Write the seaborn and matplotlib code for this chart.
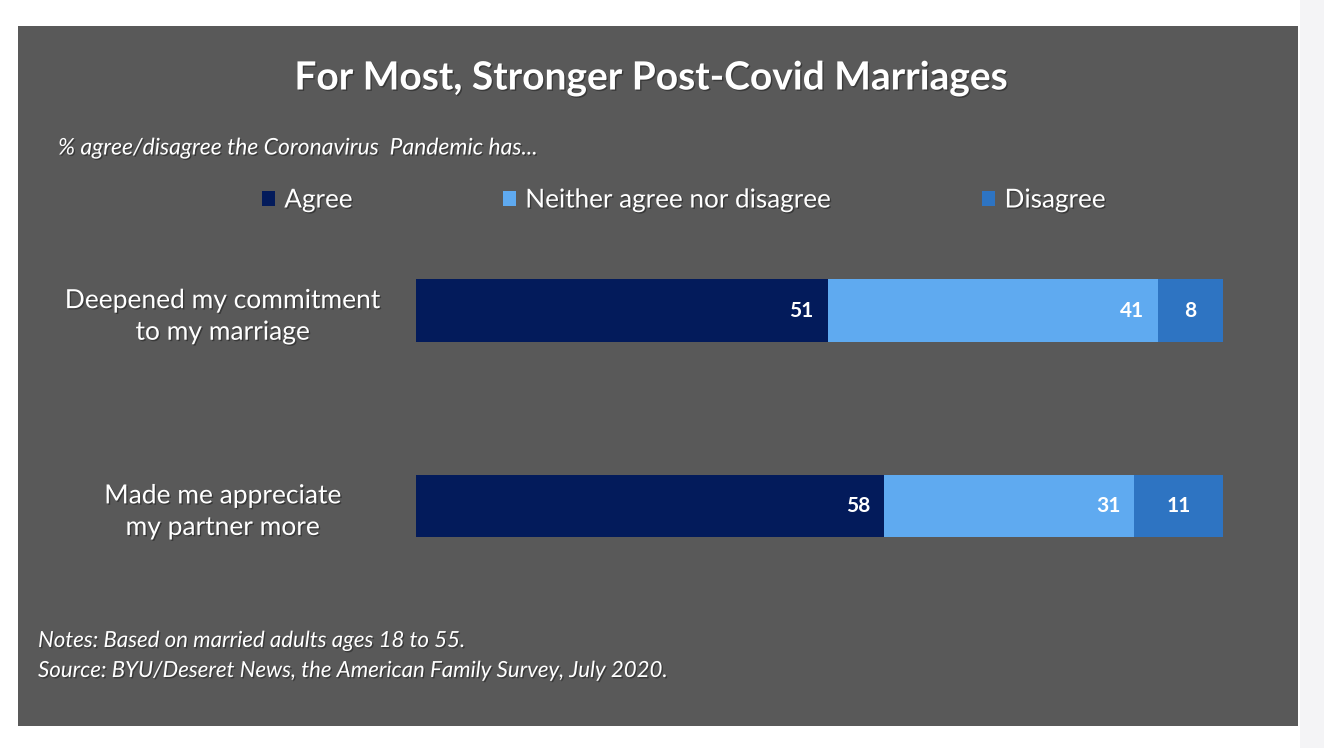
import numpy as np
import pandas as pd
import matplotlib
matplotlib.use("Agg")
import matplotlib.pyplot as plt
import matplotlib.patheffects as pe
import seaborn as sns
from matplotlib.patches import Rectangle

# ---- data ----
categories = ["Deepened my commitment\nto my marriage", "Made me appreciate\nmy partner more"]
series_names = ["Agree", "Neither agree nor disagree", "Disagree"]
agree = [51, 58]
neither = [41, 31]
disagree = [8, 11]
colors = ["#031b5b", "#5faaf0", "#2e74c2"]

title = "For Most, Stronger Post-Covid Marriages"
subtitle = "% agree/disagree the Coronavirus  Pandemic has..."
notes = ["Notes: Based on married adults ages 18 to 55.",
         "Source: BYU/Deseret News, the American Family Survey, July 2020."]

sns.set_theme(style="white")
plt.rcParams['font.family'] = ['Lato', 'DejaVu Sans']

shadow = [pe.withSimplePatchShadow(offset=(1, -1), shadow_rgbFace="black", alpha=0.35)]

W, H = 1324, 748
fig = plt.figure(figsize=(W / 100, H / 100), dpi=100)
fig.patch.set_facecolor("white")
fig.add_artist(Rectangle((18 / W, 1 - 726 / H), 1280 / W, 700 / H,
                         transform=fig.transFigure, facecolor="#595959",
                         edgecolor="none", zorder=-2))
fig.add_artist(Rectangle((1300 / W, 0), 24 / W, 1, transform=fig.transFigure,
                         facecolor="#f4f4f6", edgecolor="none", zorder=-2))

ax = fig.add_axes([416 / W, 1 - 603.5 / H, 807 / W, 390.5 / H])
ax.patch.set_alpha(0)

# cumulative ends for stacked bars
agree_end = np.array(agree)
neither_end = agree_end + np.array(neither)
dis_end = neither_end + np.array(disagree)

rows = []
for i, c in enumerate(categories):
    rows.append((c, "Disagree", dis_end[i]))
    rows.append((c, "Neither agree nor disagree", neither_end[i]))
    rows.append((c, "Agree", agree_end[i]))
df = pd.DataFrame(rows, columns=["cat", "series", "end"])

sns.barplot(data=df, y="cat", x="end", hue="series",
            hue_order=series_names[::-1],
            palette=dict(zip(series_names, colors)),
            dodge=False, width=0.32, orient="h", saturation=1,
            linewidth=0, edgecolor="none", ax=ax)

handles, labels = ax.get_legend_handles_labels()
if ax.get_legend() is not None:
    ax.get_legend().remove()
order = [labels.index(s) for s in series_names]
handles = [handles[k] for k in order]
labels = [labels[k] for k in order]
for h in handles:
    h.set_edgecolor("none")
    h.set_linewidth(0)

ax.set_xlim(0, 100)
ax.set_ylim(1.5, -0.5)
ax.set_xlabel("")
ax.set_ylabel("")
ax.set_xticks([])
for s in ax.spines.values():
    s.set_visible(False)
ax.tick_params(axis="y", length=0, pad=139)
for t in ax.get_yticklabels():
    t.set_ha("center")
    t.set_multialignment("center")
    t.set_color("white")
    t.set_fontsize(19)
    t.set_linespacing(1.33)
    t.set_path_effects(shadow)

# value labels
for i in range(len(categories)):
    ax.annotate(str(agree[i]), xy=(agree_end[i], i), xytext=(-10, 0),
                textcoords="offset points", ha="right", va="center",
                color="white", fontsize=15, weight="bold")
    ax.annotate(str(neither[i]), xy=(neither_end[i], i), xytext=(-10, 0),
                textcoords="offset points", ha="right", va="center",
                color="white", fontsize=15, weight="bold")
    ax.annotate(str(disagree[i]), xy=((neither_end[i] + dis_end[i]) / 2, i),
                ha="center", va="center",
                color="white", fontsize=15, weight="bold")

fig.text(651 / W, 1 - 78 / H, title, ha="center", va="center",
         fontsize=28, weight="bold", color="white", path_effects=shadow)
fig.text(58 / W, 1 - 148 / H, subtitle, ha="left", va="center",
         fontsize=16.5, style="italic", color="white", path_effects=shadow)

leg = fig.legend(handles, labels, loc="center", bbox_to_anchor=(684 / W, 1 - 200 / H),
                 ncol=3, frameon=False, fontsize=18.8, handlelength=0.5,
                 handleheight=0.5, handletextpad=0.35, columnspacing=5.75,
                 labelcolor="white")
for t in leg.get_texts():
    t.set_path_effects(shadow)

fig.text(38 / W, 1 - 641 / H, notes[0], ha="left", va="center",
         fontsize=16, style="italic", color="white", path_effects=shadow)
fig.text(38 / W, 1 - 671 / H, notes[1], ha="left", va="center",
         fontsize=16, style="italic", color="white", path_effects=shadow)

fig.savefig("out.png", dpi=100, facecolor="white")
